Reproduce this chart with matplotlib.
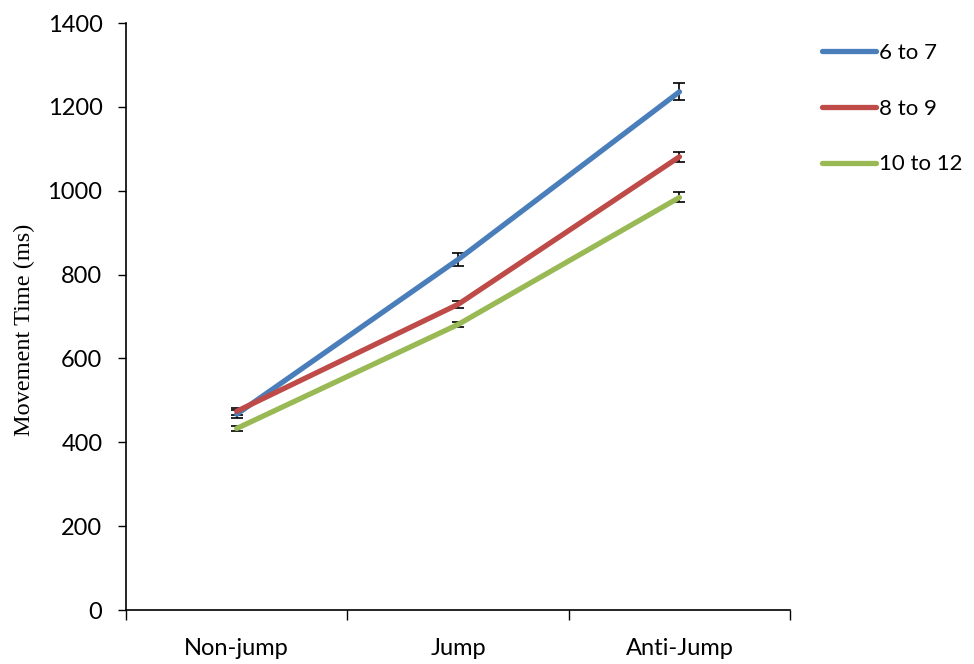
import numpy as np
import matplotlib
matplotlib.use('Agg')
import matplotlib.pyplot as plt

# data
conditions = ['Non-jump', 'Jump', 'Anti-Jump']
groups = ['6 to 7', '8 to 9', '10 to 12']
mt_6to7 = [467, 836, 1236]
mt_8to9 = [474, 729, 1081]
mt_10to12 = [433, 681, 984]
err_6to7 = [10, 16, 20]
err_8to9 = [8, 8, 12]
err_10to12 = [6, 7, 12]

colors = ['#4A7EBB', '#BE4B48', '#98B954']

plt.rcParams['font.family'] = ['Lato', 'DejaVu Sans']

fig = plt.figure(figsize=(9.74, 6.64), dpi=100)
ax = fig.add_axes([0.1294, 0.0813, 0.6818, 0.8840])

x = np.arange(len(conditions)) + 0.5
series = [mt_6to7, mt_8to9, mt_10to12]
errs = [err_6to7, err_8to9, err_10to12]
for vals, e, c, name in zip(series, errs, colors, groups):
    ax.errorbar(x, vals, yerr=e, fmt='none', ecolor='black', elinewidth=1.2,
                capsize=4, capthick=1.2, zorder=2)
    ax.plot(x, vals, color=c, lw=3.8, solid_capstyle='round', label=name, zorder=3)

ax.set_xlim(0, 3)
ax.set_ylim(0, 1400)
ax.set_yticks(range(0, 1401, 200))
ax.set_xticks([0, 1, 2, 3])
ax.set_xticklabels([])
ax.set_xticks(x, minor=True)
ax.set_xticklabels(conditions, minor=True)
ax.tick_params(axis='x', which='minor', length=0, pad=20, labelsize=17)
ax.tick_params(axis='x', which='major', length=7, direction='out', width=1)
ax.tick_params(axis='y', length=6, direction='out', width=1, labelsize=17, pad=11)

for s in ['top', 'right']:
    ax.spines[s].set_visible(False)
for s in ['left', 'bottom']:
    ax.spines[s].set_linewidth(1.2)

ax.set_ylabel('Movement Time (ms)', family=['Liberation Serif'], fontsize=17.5)
ax.yaxis.set_label_coords(-0.137, 0.477)

fig.legend(loc='upper left', bbox_to_anchor=(0.8234, 0.965), frameon=False,
           fontsize=16, handlelength=2.45, handletextpad=0.12, labelspacing=1.6)

plt.savefig('out.png', dpi=100)
plt.close()
